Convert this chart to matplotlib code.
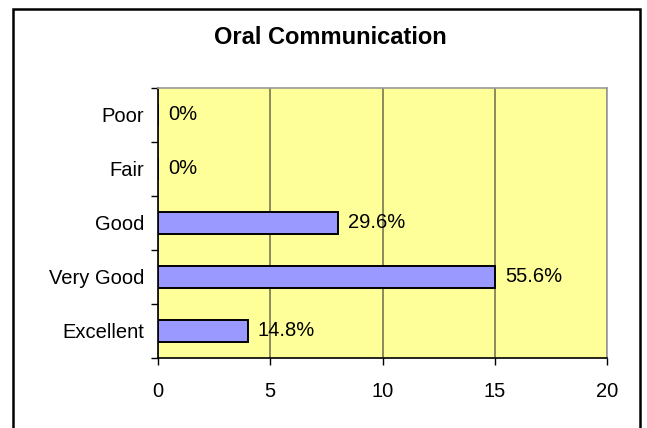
import matplotlib.pyplot as plt
from matplotlib.patches import Rectangle

# données
categories = ["Excellent", "Very Good", "Good", "Fair", "Poor"]
counts = [4, 15, 8, 0, 0]
pct_labels = ["14.8%", "55.6%", "29.6%", "0%", "0%"]
xticks = [0, 5, 10, 15, 20]

plt.rcParams['font.family'] = ['Liberation Sans', 'DejaVu Sans']

fig = plt.figure(figsize=(6.47, 4.28), dpi=100)
fig.patch.set_facecolor('white')
# cadre extérieur du graphique
fig.add_artist(Rectangle((13/647, -0.05), 627/647, 1.05 - 9/428, transform=fig.transFigure,
                         fill=False, edgecolor='black', linewidth=1.8))

ax = fig.add_axes([158/647, 1 - 358/428, (607 - 158)/647, (358 - 88)/428])
ax.set_facecolor('#FFFF99')

y = range(len(categories))
ax.barh(y, counts, height=0.39, color='#9999FF', edgecolor='black', linewidth=1.4, zorder=3)
for i, (v, lab) in enumerate(zip(counts, pct_labels)):
    ax.text(v + 0.45, i, lab, va='center', ha='left', fontsize=14.5, zorder=4)

ax.set_xlim(0, 20)
ax.set_ylim(-0.5, len(categories) - 0.5)
ax.set_xticks(xticks)
ax.set_xticklabels([str(t) for t in xticks], fontsize=14.5)
ax.set_yticks(list(y))
ax.set_yticklabels(categories, fontsize=14.5)
ax.tick_params(axis='y', length=0, pad=10)
ax.tick_params(axis='x', length=5, width=1, pad=12, direction='out')
# petits tirets entre catégories
ax.set_yticks([i - 0.5 for i in range(len(categories) + 1)], minor=True)
ax.tick_params(axis='y', which='minor', length=5, width=1, direction='out')

ax.grid(axis='x', color='#777755', linewidth=1.2, zorder=1)
for s in ['top', 'right']:
    ax.spines[s].set_color('#999999')
    ax.spines[s].set_linewidth(1.2)
for s in ['left', 'bottom']:
    ax.spines[s].set_color('black')
    ax.spines[s].set_linewidth(1.2)

fig.text(330/647, 1 - 37/428, "Oral Communication", ha='center', va='center',
         fontsize=17, fontweight='bold')

fig.savefig('out.png', dpi=100)
